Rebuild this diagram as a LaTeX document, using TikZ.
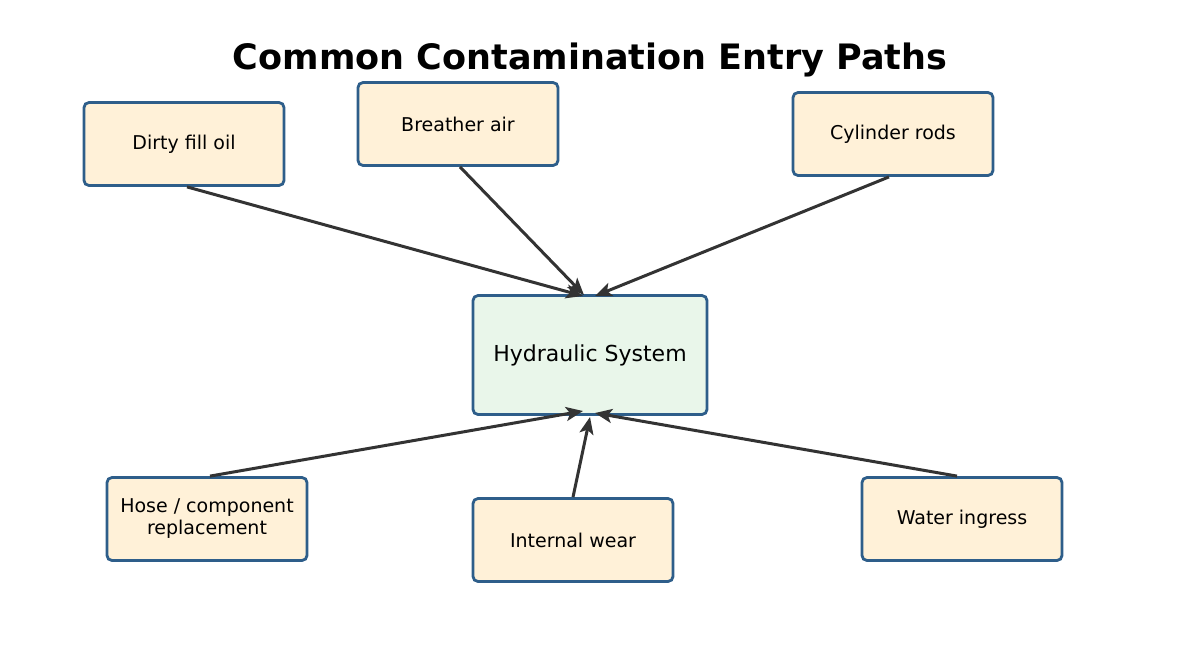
\documentclass[tikz,border=0pt]{standalone}
\usepackage{fontspec}
\setmainfont{DejaVu Sans}
\usetikzlibrary{arrows.meta}
\definecolor{edgeblue}{HTML}{2E5E8A}
\definecolor{srcfill}{HTML}{FFF1D8}
\definecolor{sysfill}{HTML}{E9F6EA}
\definecolor{arrowgray}{HTML}{333333}
\begin{document}
\begin{tikzpicture}[x=1pt,y=-1pt,
    src/.style={rectangle,rounded corners=5pt,draw=edgeblue,line width=2.8pt,fill=srcfill,
        minimum width=200pt,minimum height=83pt,align=center,font=\fontsize{19}{22}\selectfont},
    feed/.style={draw=arrowgray,line width=3pt,-{Stealth[length=17pt,width=14pt,inset=4pt]}}]
\useasboundingbox (0,0) rectangle (1179,659);
\node (title) at (590,60) {\fontsize{35}{40}\selectfont\bfseries Common Contamination Entry Paths};

\node (sys)[rectangle,rounded corners=5pt,draw=edgeblue,line width=2.8pt,fill=sysfill,
    minimum width=234pt,minimum height=119pt,font=\fontsize{22}{26}\selectfont] at (590,355) {Hydraulic System};

\node (fill)[src] at (184,144) {Dirty fill oil};
\node (air)[src] at (458,124) {Breather air};
\node (rods)[src] at (893,134) {Cylinder rods};
\node (hose)[src] at (207,519) {Hose / component\\replacement};
\node (wear)[src] at (573,540) {Internal wear};
\node (water)[src] at (962,519) {Water ingress};

\coordinate (inA) at (583,296);
\coordinate (inB) at (584,295);
\coordinate (inC) at (595,296);
\coordinate (inD) at (583,411);
\coordinate (inE) at (590,417);
\coordinate (inF) at (595,413);

\draw[feed] ([xshift=3pt]fill.south) -- (inA);
\draw[feed] ([xshift=2pt]air.south) -- (inB);
\draw[feed] ([xshift=-4pt]rods.south) -- (inC);
\draw[feed] ([xshift=3pt]hose.north) -- (inD);
\draw[feed] (wear.north) -- (inE);
\draw[feed] ([xshift=-5pt]water.north) -- (inF);
\end{tikzpicture}
\end{document}
